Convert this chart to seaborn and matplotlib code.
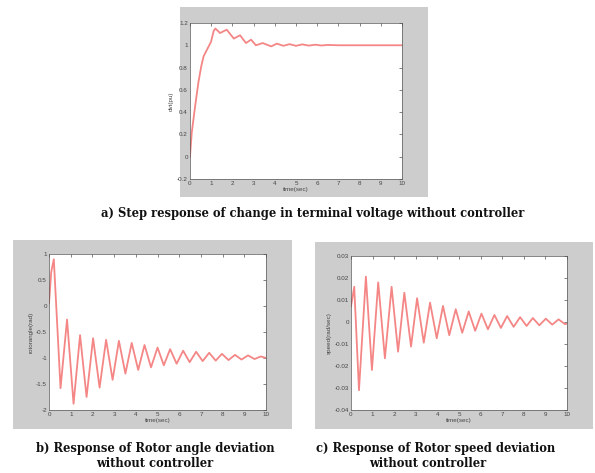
import matplotlib
matplotlib.use("Agg")
import matplotlib.pyplot as plt
from matplotlib.patches import Rectangle
import seaborn as sns
import pandas as pd

# a) step response of terminal voltage (time, value)
volt_t = [0, 0.08, 0.24, 0.4, 0.53, 0.64, 0.8, 0.99, 1.12, 1.2, 1.42, 1.73, 2.07, 2.36, 2.64,
          2.88, 3.11, 3.43, 3.83, 4.1, 4.4, 4.7, 5.0, 5.3, 5.6, 5.9, 6.2, 6.5, 7.0, 8.0, 9.0, 10.0]
volt_v = [0, 0.21, 0.45, 0.67, 0.81, 0.9, 0.96, 1.03, 1.13, 1.15, 1.11, 1.14, 1.06, 1.09, 1.02,
          1.05, 1.0, 1.02, 0.99, 1.015, 0.995, 1.01, 0.995, 1.008, 0.997, 1.005, 0.998, 1.003,
          1.0, 1.0, 1.0, 1.0]

# b) rotor angle deviation
angle_t = [0, 0.1, 0.22, 0.53, 0.83, 1.13, 1.43, 1.73, 2.03, 2.33, 2.63, 2.93, 3.22, 3.52,
           3.81, 4.11, 4.4, 4.7, 5.0, 5.29, 5.58, 5.88, 6.18, 6.48, 6.78, 7.08, 7.38, 7.68,
           7.97, 8.27, 8.57, 8.87, 9.17, 9.47, 9.76, 10.0]
angle_v = [0.05, 0.65, 0.9, -1.58, -0.26, -1.88, -0.56, -1.75, -0.62, -1.57, -0.65, -1.42,
           -0.67, -1.3, -0.71, -1.23, -0.75, -1.18, -0.8, -1.14, -0.83, -1.11, -0.86, -1.08,
           -0.88, -1.06, -0.9, -1.05, -0.92, -1.04, -0.94, -1.03, -0.95, -1.02, -0.97, -1.0]

# c) rotor speed deviation
speed_t = [0, 0.15, 0.37, 0.69, 0.97, 1.26, 1.57, 1.88, 2.18, 2.47, 2.78, 3.06, 3.37, 3.66,
           3.97, 4.26, 4.55, 4.85, 5.15, 5.45, 5.75, 6.04, 6.34, 6.64, 6.94, 7.23, 7.53, 7.83,
           8.13, 8.42, 8.72, 9.02, 9.32, 9.61, 9.91, 10.0]
speed_v = [0.007, 0.016, -0.031, 0.0206, -0.0218, 0.018, -0.0165, 0.016, -0.0135, 0.0133,
           -0.0112, 0.0108, -0.0094, 0.0088, -0.0074, 0.0073, -0.006, 0.0058, -0.0049, 0.0048,
           -0.004, 0.0038, -0.0033, 0.0032, -0.0027, 0.0027, -0.0022, 0.0022, -0.0018, 0.0018,
           -0.0015, 0.0015, -0.0012, 0.0012, -0.001, -0.0007]

captions = {
    "a": ["a) Step response of change in terminal voltage without controller"],
    "b": ["b) Response of Rotor angle deviation", "without controller"],
    "c": ["c) Response of Rotor speed deviation", "without controller"],
}

sns.set_style("white")
plt.rcParams['font.family'] = ['Liberation Sans', 'DejaVu Sans']

fig = plt.figure(figsize=(5.95, 4.73), dpi=100)
fig.patch.set_facecolor("white")

GRAY = "#cdcdcd"
LINE = "#f48686"

# gray "figure window" backgrounds, kept behind the axes
for (x, y, w, h) in [(0.3025, 0.5835, 0.4168, 0.4017),
                     (0.0218, 0.0930, 0.4689, 0.3996),
                     (0.5294, 0.0930, 0.4672, 0.3953)]:
    fig.patches.append(Rectangle((x, y), w, h, transform=fig.transFigure,
                                 facecolor=GRAY, edgecolor="none", zorder=-5))


def matlab_axes(rect, t, v, ylim, yticks, ylabel, yfmt):
    ax = fig.add_axes(rect)
    ax.set_zorder(2)
    ax.set_facecolor("white")
    df = pd.DataFrame({"t": t, "v": v})
    sns.lineplot(data=df, x="t", y="v", ax=ax, color=LINE, linewidth=1.3,
                 solid_joinstyle="round", solid_capstyle="round")
    ax.set_xlim(0, 10)
    ax.set_ylim(*ylim)
    ax.set_xticks(range(0, 11))
    ax.set_yticks(yticks)
    ax.set_yticklabels([yfmt(y) for y in yticks])
    ax.tick_params(direction="in", top=True, right=True, length=2, width=0.4,
                   labelsize=4.5, labelcolor="#444444", pad=1.5)
    for s in ax.spines.values():
        s.set_linewidth(0.5)
        s.set_color("#555555")
    ax.set_xlabel("time(sec)", fontsize=4.5, color="#444444", labelpad=1)
    ax.set_ylabel(ylabel, fontsize=4.5, color="#444444", labelpad=2)
    return ax


def fmt_g(y):
    s = f"{y:g}"
    return "0" if s in ("-0", "0") else s


matlab_axes([0.3193, 0.6216, 0.3563, 0.3298], volt_t, volt_v, (-0.2, 1.2),
            [-0.2, 0, 0.2, 0.4, 0.6, 0.8, 1.0, 1.2], "dvt(pu)", fmt_g)
matlab_axes([0.0824, 0.1332, 0.3647, 0.3298], angle_t, angle_v, (-2, 1),
            [-2, -1.5, -1, -0.5, 0, 0.5, 1], "rotorangle(rad)", fmt_g)
matlab_axes([0.5899, 0.1332, 0.3630, 0.3256], speed_t, speed_v, (-0.04, 0.03),
            [-0.04, -0.03, -0.02, -0.01, 0, 0.01, 0.02, 0.03], "speed(rad/sec)",
            lambda y: fmt_g(round(y, 2)))

cap_kw = dict(fontsize=8.3, fontweight="bold", family="DejaVu Serif",
              ha="center", va="center", color="#111111")
fig.text(313 / 595, 1 - 213 / 473, captions["a"][0], **cap_kw)
fig.text(155 / 595, 1 - 448 / 473, captions["b"][0], **cap_kw)
fig.text(155 / 595, 1 - 463 / 473, captions["b"][1], **cap_kw)
fig.text(436 / 595, 1 - 448 / 473, captions["c"][0], **cap_kw)
fig.text(428 / 595, 1 - 463 / 473, captions["c"][1], **cap_kw)

fig.savefig("out.png", dpi=100)
